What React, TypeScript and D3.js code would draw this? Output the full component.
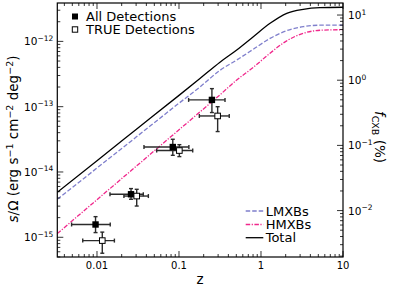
import React from 'react';
import * as d3 from 'd3';

// ---------- data ----------
const xTickValues = [0.01, 0.1, 1, 10];
const xTickLabels = ['0.01', '0.1', '1', '10'];
const leftTickExps = [-15, -14, -13, -12];
const rightTickExps = [-2, -1, 0, 1];

const zCurve = [0.00328, 0.01, 0.03, 0.1, 0.18, 0.316, 0.506, 0.806, 1.29, 2.06, 3.28, 5.25, 10];
const sTotal = [4.89e-15, 1.49e-14, 4.47e-14, 1.49e-13, 2.7e-13, 4.8e-13, 7.38e-13, 1.18e-12, 1.89e-12, 2.69e-12, 3.1e-12, 3.28e-12, 3.33e-12];
const sLMXB = [3.82e-15, 1.15e-14, 3.42e-14, 1.13e-13, 2.0e-13, 3.6e-13, 5.19e-13, 7.57e-13, 1.11e-12, 1.46e-12, 1.68e-12, 1.77e-12, 1.78e-12];
const sHMXB = [1.14e-15, 3.77e-15, 1.22e-14, 4.43e-14, 8.3e-14, 1.52e-13, 2.56e-13, 4.0e-13, 6.6e-13, 1.02e-12, 1.33e-12, 1.48e-12, 1.51e-12];

const zAll = [0.0096, 0.026, 0.084, 0.252];
const zAllLo = [0.0049, 0.0144, 0.0374, 0.131];
const zAllHi = [0.0145, 0.0367, 0.132, 0.364];
const sAll = [1.57e-15, 4.56e-15, 2.41e-14, 1.27e-13];
const sAllLo = [1.18e-15, 3.82e-15, 1.8e-14, 8.13e-14];
const sAllHi = [2.07e-15, 5.57e-15, 3.17e-14, 1.89e-13];

const zTrue = [0.0116, 0.0305, 0.101, 0.296];
const zTrueLo = [0.0067, 0.0213, 0.0534, 0.177];
const zTrueHi = [0.0163, 0.0423, 0.147, 0.41];
const sTrue = [8.9e-16, 4.28e-15, 2.13e-14, 7.21e-14];
const sTrueLo = [5.7e-16, 3.01e-15, 1.72e-14, 4.16e-14];
const sTrueHi = [1.2e-15, 5.43e-15, 2.62e-14, 1.0e-13];

// ---------- layout ----------
const W = 395, H = 289;
const X0 = 57.3, X1 = 343, Y0 = 3, Y1 = 257;
const FONT = 'DejaVu Sans, sans-serif';
const BLUE = '#7f7fcc';
const PINK = '#f0288c';
const ERR = '#2b2b2b';
const LEG = 13;

const x = d3.scaleLog().domain([0.00328, 10]).range([X0, X1]);
const y = d3.scaleLog().domain([4.99e-16, 3.87e-12]).range([Y1, Y0]);
const yR = d3.scaleLog().domain([1.94e-3, 15.3]).range([Y1, Y0]);

const isMajor = (v: number) => Math.abs(Math.log10(v) - Math.round(Math.log10(v))) < 1e-6;

function curvePath(zs: number[], ss: number[]) {
  const line = d3.line<number>()
    .x((_, i) => x(zs[i]))
    .y((_, i) => y(ss[i]))
    .curve(d3.curveMonotoneX);
  return line(zs.map((_, i) => i)) || '';
}

function Pow({ exp, xx, yy, anchor }: { exp: number; xx: number; yy: number; anchor: string }) {
  const e = exp < 0 ? '\u2212' + Math.abs(exp) : String(exp);
  return (
    <text x={xx} y={yy} textAnchor={anchor} fontFamily={FONT} fontSize={10.5} fill="#000">
      10<tspan fontSize={7.5} dy={-4.5}>{e}</tspan>
    </text>
  );
}

export default function App() {
  const xt = x.ticks().filter(v => v >= x.domain()[0] && v <= x.domain()[1]);
  const yt = y.ticks().filter(v => v >= y.domain()[0] && v <= y.domain()[1]);
  const yrt = yR.ticks().filter(v => v >= yR.domain()[0] && v <= yR.domain()[1]);
  const MAJ = 6, MIN = 3;

  const errBars = (zs: number[], zl: number[], zh: number[], ss: number[], sl: number[], sh: number[]) =>
    zs.map((z, i) => {
      const cx = x(z), cy = y(ss[i]);
      const xl = x(zl[i]), xh = x(zh[i]), yl = y(sl[i]), yh = y(sh[i]);
      return (
        <g key={i} stroke={ERR} strokeWidth={1.4}>
          <line x1={xl} x2={xh} y1={cy} y2={cy} />
          <line x1={cx} x2={cx} y1={yl} y2={yh} />
          <line x1={xl} x2={xl} y1={cy - 2} y2={cy + 2} />
          <line x1={xh} x2={xh} y1={cy - 2} y2={cy + 2} />
          <line x1={cx - 2} x2={cx + 2} y1={yl} y2={yl} />
          <line x1={cx - 2} x2={cx + 2} y1={yh} y2={yh} />
        </g>
      );
    });

  return (
    <svg width={W} height={H} style={{ position: 'absolute', left: 0, top: 0, background: '#fff' }}>
      <defs>
        <clipPath id="plot">
          <rect x={X0} y={Y0} width={X1 - X0} height={Y1 - Y0} />
        </clipPath>
      </defs>

      <g clipPath="url(#plot)" fill="none" strokeWidth={1.3}>
        <path d={curvePath(zCurve, sLMXB)} stroke={BLUE} strokeDasharray="4.5 2" />
        <path d={curvePath(zCurve, sHMXB)} stroke={PINK} strokeDasharray="4.5 1.5 1.2 1.5" />
        <path d={curvePath(zCurve, sTotal)} stroke="#000" />
      </g>

      {errBars(zTrue, zTrueLo, zTrueHi, sTrue, sTrueLo, sTrueHi)}
      {errBars(zAll, zAllLo, zAllHi, sAll, sAllLo, sAllHi)}
      {zAll.map((z, i) => (
        <rect key={'a' + i} x={x(z) - 3.2} y={y(sAll[i]) - 3.2} width={6.4} height={6.4} fill="#000" />
      ))}
      {zTrue.map((z, i) => (
        <rect key={'t' + i} x={x(z) - 2.8} y={y(sTrue[i]) - 2.8} width={5.6} height={5.6} fill="#fff" stroke="#000" strokeWidth={1} />
      ))}

      {/* ticks */}
      <g stroke="#000" strokeWidth={0.8}>
        {xt.map((v, i) => {
          const L = isMajor(v) ? MAJ : MIN;
          const px = x(v);
          return (
            <g key={'xt' + i}>
              <line x1={px} x2={px} y1={Y1} y2={Y1 - L} />
              <line x1={px} x2={px} y1={Y0} y2={Y0 + L} />
            </g>
          );
        })}
        {yt.map((v, i) => {
          const L = isMajor(v) ? MAJ : MIN;
          const py = y(v);
          return <line key={'yt' + i} x1={X0} x2={X0 + L} y1={py} y2={py} />;
        })}
        {yrt.map((v, i) => {
          const L = isMajor(v) ? MAJ : MIN;
          const py = yR(v);
          return <line key={'yr' + i} x1={X1} x2={X1 - L} y1={py} y2={py} />;
        })}
      </g>

      <rect x={X0} y={Y0} width={X1 - X0} height={Y1 - Y0} fill="none" stroke="#000" strokeWidth={1.2} />

      {/* tick labels */}
      {xTickValues.map((v, i) => (
        <text key={'xl' + i} x={x(v)} y={268.5} textAnchor="middle" fontFamily={FONT} fontSize={10}>
          {xTickLabels[i]}
        </text>
      ))}
      {leftTickExps.map(e => (
        <Pow key={'ll' + e} exp={e} xx={X0 - 4} yy={y(Math.pow(10, e)) + 4} anchor="end" />
      ))}
      {rightTickExps.map(e => (
        <Pow key={'rl' + e} exp={e} xx={X1 + 5} yy={yR(Math.pow(10, e)) + 4} anchor="start" />
      ))}

      {/* axis labels */}
      <text x={200} y={284} textAnchor="middle" fontFamily={FONT} fontSize={13.5}>z</text>
      <text transform="translate(18,139) rotate(-90)" textAnchor="middle" fontFamily={FONT} fontSize={13.5}>
        <tspan fontStyle="italic">s</tspan>/Ω (erg s<tspan fontSize={9.5} dy={-5.5}>−1</tspan>
        <tspan dy={5.5}> cm</tspan><tspan fontSize={9.5} dy={-5.5}>−2</tspan>
        <tspan dy={5.5}> deg</tspan><tspan fontSize={9.5} dy={-5.5}>−2</tspan><tspan dy={5.5}>)</tspan>
      </text>
      <text transform="translate(375,137) rotate(90)" textAnchor="middle" fontFamily={FONT} fontSize={13.5}>
        <tspan fontStyle="italic">f</tspan><tspan fontSize={9.5} dy={3}>CXB</tspan><tspan dy={-3}> (%)</tspan>
      </text>

      {/* legend: detections */}
      <rect x={75 - 3} y={16.5 - 3} width={6} height={6} fill="#000" />
      <text x={86} y={21} fontFamily={FONT} fontSize={LEG}>All Detections</text>
      <rect x={75 - 2.7} y={29.5 - 2.7} width={5.4} height={5.4} fill="#fff" stroke="#000" strokeWidth={1} />
      <text x={86} y={34} fontFamily={FONT} fontSize={LEG}>TRUE Detections</text>

      {/* legend: lines */}
      <g strokeWidth={1.3}>
        <line x1={245.7} x2={263.3} y1={211} y2={211} stroke={BLUE} strokeDasharray="4.5 2" />
        <line x1={245.7} x2={263.3} y1={224.5} y2={224.5} stroke={PINK} strokeDasharray="4.5 1.5 1.2 1.5" />
        <line x1={245.7} x2={263.3} y1={237.7} y2={237.7} stroke="#000" />
      </g>
      <text x={265.7} y={215.5} fontFamily={FONT} fontSize={LEG}>LMXBs</text>
      <text x={265.7} y={229} fontFamily={FONT} fontSize={LEG}>HMXBs</text>
      <text x={265.7} y={242.2} fontFamily={FONT} fontSize={LEG}>Total</text>
    </svg>
  );
}
